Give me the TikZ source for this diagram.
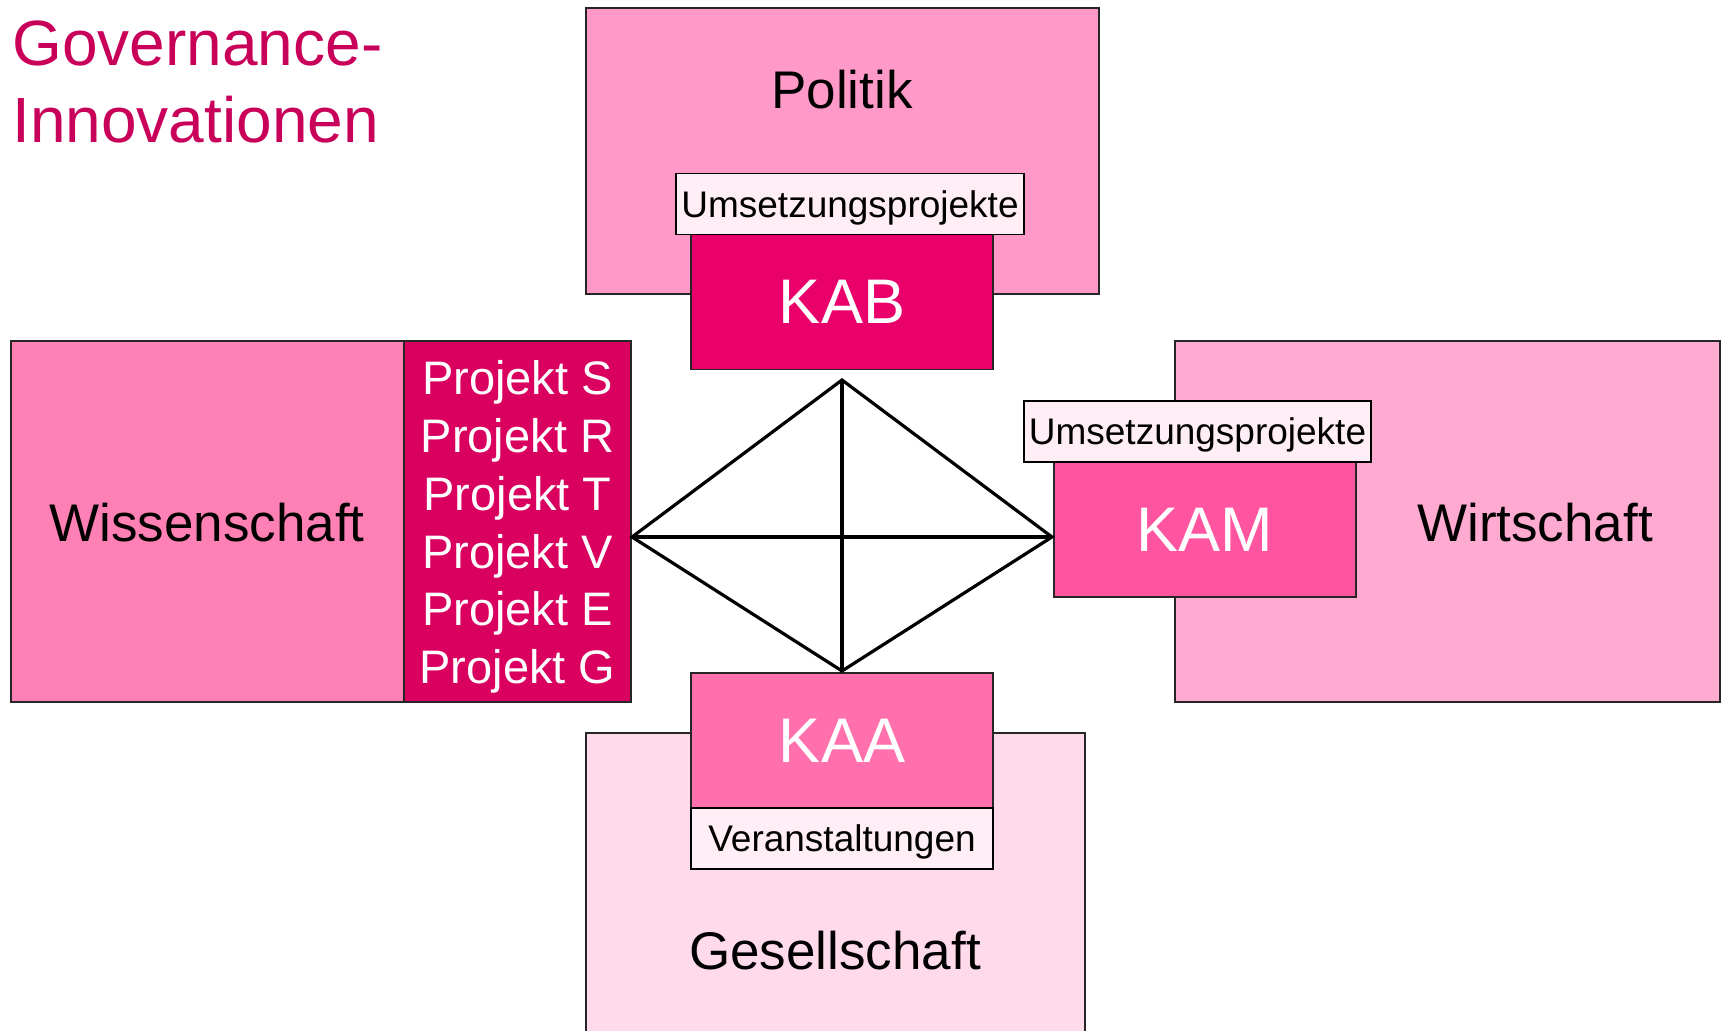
\documentclass[tikz,border=0pt]{standalone}
\usepackage{fontspec}
\setmainfont{Liberation Sans}
\usepackage{tikz}
\definecolor{titlepink}{RGB}{200,0,90}
\definecolor{politikpink}{RGB}{255,153,200}
\definecolor{wisspink}{RGB}{255,128,180}
\definecolor{wirtpink}{RGB}{255,170,208}
\definecolor{gespink}{RGB}{255,218,234}
\definecolor{kabpink}{RGB}{234,0,106}
\definecolor{kampink}{RGB}{255,85,160}
\definecolor{kaapink}{RGB}{255,112,172}
\definecolor{projpink}{RGB}{217,0,96}
\definecolor{tagpink}{RGB}{255,238,245}
\tikzstyle{sector}=[rectangle, draw=black!85, line width=0.9pt, inner sep=0pt]
\tikzstyle{office}=[rectangle, draw=black!85, line width=0.9pt, inner sep=0pt, minimum width=151pt, minimum height=67.5pt, text=white, font=\fontsize{31.5}{36}\selectfont]
\tikzstyle{tag}=[rectangle, draw=black, line width=0.9pt, fill=tagpink, inner sep=0pt, text depth=0pt, minimum height=30.5pt, font=\fontsize{18.5}{22}\selectfont]
\tikzstyle{fieldname}=[inner sep=0pt, font=\fontsize{26.5}{30}\selectfont]
\tikzstyle{link}=[-, line width=1.6pt, draw=black]
\begin{document}
\begin{tikzpicture}[x=0.5pt, y=-0.5pt]
				\useasboundingbox (0,0) rectangle (1723,1031);
				\clip (0,0) rectangle (1723,1031);
				
				%The title
				\node[anchor=north west, inner sep=0pt, align=left, text=titlepink, font=\fontsize{32}{38.5}\selectfont] (title) at (12,20) {Governance-\\Innovationen};
				
				%The four sectors
				\node[sector, fill=politikpink, minimum width=256.5pt, minimum height=143.25pt] (politik) at (842.5,151) {};
				\node[sector, fill=wisspink, minimum width=196.5pt, minimum height=180.5pt] (wiss) at (207.5,521.5) {};
				\node[sector, fill=projpink, minimum width=113.5pt, minimum height=180.5pt] (proj) at (517.5,521.5) {};
				\node[sector, fill=wirtpink, minimum width=272.5pt, minimum height=180.5pt] (wirt) at (1447.5,521.5) {};
				\node[sector, fill=gespink, minimum width=249.5pt, minimum height=156pt] (ges) at (835.5,889) {};
				
				%The sector names
				\node[fieldname] (politik-t) at (842,90) {Politik};
				\node[fieldname] (wiss-t) at (207,523) {Wissenschaft};
				\node[fieldname] (wirt-t) at (1535,523) {Wirtschaft};
				\node[fieldname] (ges-t) at (835,951) {Gesellschaft};
				\node[inner sep=0pt, text=white, align=center, font=\fontsize{23.5}{28.9}\selectfont] (proj-t) at (517.5,527) {Projekt S\\Projekt R\\Projekt T\\Projekt V\\Projekt E\\Projekt G};
				
				%The offices
				\node[office, fill=kabpink] (kab) at (842,302) {KAB};
				\node[office, fill=kampink] (kam) at (1205,529.5) {KAM};
				\node[office, fill=kaapink] (kaa) at (842,740.5) {KAA};
				
				%The tags
				\node[tag, minimum width=174pt] (kab-tag) at (850,204) {Umsetzungsprojekte};
				\node[tag, minimum width=173.5pt] (kam-tag) at (1197.5,431.5) {Umsetzungsprojekte};
				\node[tag, minimum width=151pt] (kaa-tag) at (842,838.5) {Veranstaltungen};
				
				%The rhombus
				\coordinate (top) at (842,380);
				\coordinate (left) at (632,537);
				\coordinate (right) at (1052,537);
				\coordinate (bottom) at (842,671);
				\draw[link] (top) -- (right) -- (bottom) -- (left) -- cycle;
				\draw[link] (left) -- (right);
				\draw[link] (top) -- (bottom);
\end{tikzpicture}
\end{document}
